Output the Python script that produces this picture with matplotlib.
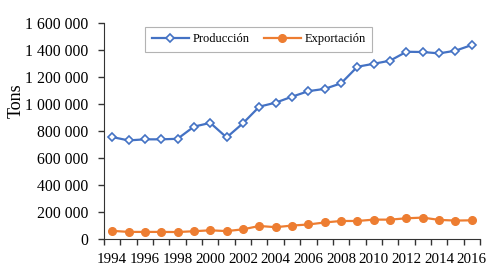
import numpy as np
import matplotlib.pyplot as plt
from matplotlib.ticker import FuncFormatter

years = list(range(1994, 2017))
produccion = [755000, 730000, 738000, 738000, 742000, 832000, 860000, 752000, 857000,
              980000, 1010000, 1054000, 1095000, 1112000, 1153000, 1276000, 1298000,
              1321000, 1387000, 1385000, 1375000, 1395000, 1437000]
exportacion = [60000, 52000, 52000, 52000, 51000, 57000, 64000, 58000, 71000,
               96000, 87000, 99000, 107000, 122000, 133000, 133000, 143000, 143000,
               153000, 158000, 141000, 136000, 138000]

plt.rcParams['font.family'] = ['Liberation Serif', 'DejaVu Serif']

fig = plt.figure(figsize=(5, 2.74), dpi=100)
ax = fig.add_axes([0.208, 0.128, 0.752, 0.788])
x = np.arange(len(years))
ax.plot(x, produccion, color='#4472C4', lw=1.6, marker='D', ms=4.5,
        mfc='white', mec='#4472C4', mew=1.2, label='Producción')
ax.plot(x, exportacion, color='#ED7D31', lw=1.6, marker='o', ms=5.5,
        mfc='#ED7D31', mec='#ED7D31', label='Exportación')

ax.set_xlim(-0.5, len(years) - 0.5)
ax.set_ylim(0, 1600000)
ax.set_yticks(np.arange(0, 1600001, 200000))
ax.yaxis.set_major_formatter(FuncFormatter(lambda v, p: f'{int(v):,}'.replace(',', ' ')))
# ticks between categories, year labels under every second point
ax.set_xticks(np.arange(-0.5, len(years), 1))
ax.set_xticklabels([])
ax.set_xticks(x[::2], minor=True)
ax.set_xticklabels([str(y) for y in years[::2]], minor=True)
ax.tick_params(axis='x', which='minor', length=0, labelsize=10.8, pad=10)
ax.tick_params(axis='x', which='major', length=4, width=1, color='#333333')
ax.tick_params(axis='y', length=4, width=1, labelsize=11.3, pad=7, color='#333333')
ax.spines['top'].set_visible(False)
ax.spines['right'].set_visible(False)
ax.spines['left'].set_color('#333333')
ax.spines['bottom'].set_color('#333333')
ax.set_ylabel('Tons', fontsize=13)
ax.yaxis.set_label_coords(-0.212, 0.64)

leg = ax.legend(ncol=2, loc='upper center', bbox_to_anchor=(0.412, 0.981),
                borderaxespad=0, fontsize=9, frameon=True, fancybox=False,
                edgecolor='#a0a0a0', handlelength=3.0, handletextpad=0.3,
                columnspacing=1.1, borderpad=0.5)
leg.get_frame().set_linewidth(0.8)

fig.savefig('out.png', dpi=100)
